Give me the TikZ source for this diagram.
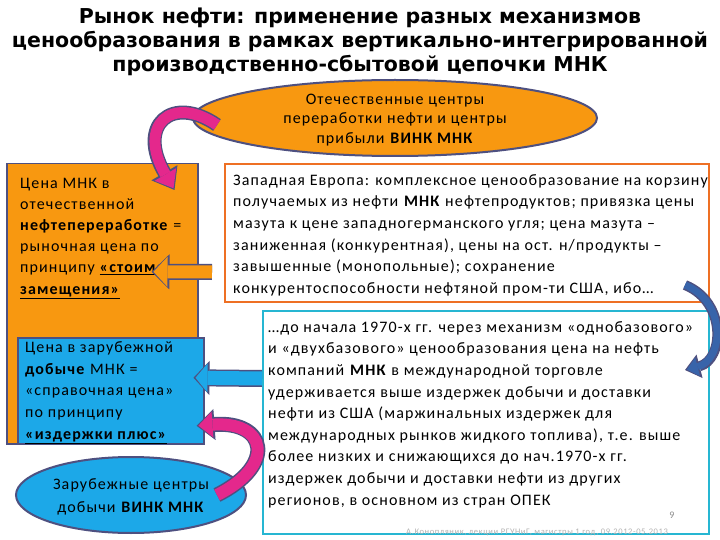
\documentclass[tikz,border=0pt]{standalone}
\usepackage{fontspec}
\setmainfont{Carlito}[LetterSpace=7]
\newfontfamily\titlefont{DejaVu Sans}
\usetikzlibrary{arrows.meta,positioning,shapes.geometric}
\definecolor{oilorange}{RGB}{248,152,16}
\definecolor{framegray}{RGB}{78,80,128}
\definecolor{skyblue}{RGB}{28,168,232}
\definecolor{rimorange}{RGB}{238,112,36}
\definecolor{rimcyan}{RGB}{38,182,210}
\definecolor{pinkarrow}{RGB}{228,40,140}
\definecolor{steelarrow}{RGB}{56,100,170}
\tikzstyle{box}=[rectangle,anchor=north west,inner sep=0pt]
\tikzstyle{txt}=[anchor=base west,inner sep=0pt,align=left]
\tikzset{fat arrow/.style n args={4}{line width=#2,draw=framegray,
  -{Triangle[length=#3,width=#4,line width=1pt]},
  postaction={draw=#1,line width=#2-3pt,shorten >=2pt,
  -{Triangle[length=#3-4pt,width=#4-5pt,line width=0pt]}}}}

\begin{document}
\begin{tikzpicture}[x=1pt,y=-1pt,>=Stealth]
  \useasboundingbox[fill=white] (0,0) rectangle (720,540);
  \tikzstyle{body}=[font=\fontsize{16}{21.6}\selectfont]

  % title
  \node[font=\titlefont\bfseries\fontsize{20.5}{24}\selectfont,align=center] (title) at (360,42)
    {Рынок нефти: применение разных механизмов\\
     ценообразования в рамках вертикально-интегрированной\\
     производственно-сбытовой цепочки МНК};

  % left column (base anchor = last line)
  \node[box,draw=framegray,line width=1.5pt,fill=oilorange,minimum width=191pt,minimum height=280pt] (homebox) at (6,163) {};
  \node[txt,font=\fontsize{16}{21.2}\selectfont] (hometext) at ([xshift=14pt,yshift=-131pt]homebox.north west)
    {Цена МНК в\\ отечественной\\ \textbf{нефтепереработке} =\\ рыночная цена по\\
     принципу \underline{\textbf{«стоимости}}\\ \underline{\textbf{замещения»}}};
  \node[box,draw=framegray,line width=1.5pt,fill=skyblue,minimum width=186pt,minimum height=106pt] (abroadbox) at (17,337) {};
  \node[txt,font=\fontsize{16}{21.8}\selectfont] (abroadtext) at ([xshift=8pt,yshift=5pt]abroadbox.south west)
    {Цена в зарубежной\\ \textbf{добыче} МНК =\\ «справочная цена»\\ по принципу\\
     \underline{\textbf{«издержки плюс»}}};

  % ellipses
  \node[ellipse,draw=framegray,line width=2pt,fill=oilorange,minimum width=404pt,minimum height=76pt] (refine) at (395,118) {};
  \node[align=center,font=\fontsize{16}{19.5}\selectfont] (refinetext) at ([yshift=-2pt]refine)
    {Отечественные центры\\ переработки нефти и центры\\ прибыли \textbf{ВИНК МНК}};
  \node[ellipse,draw=framegray,line width=2pt,fill=skyblue,minimum width=230pt,minimum height=76pt] (upstream) at (131,495) {};
  \node[align=center,font=\fontsize{16}{23}\selectfont] (upstreamtext) at ([yshift=-2pt]upstream)
    {Зарубежные центры\\ добычи \textbf{ВИНК МНК}};

  % right column
  \node[box,draw=rimorange,line width=2pt,fill=white,minimum width=484pt,minimum height=138pt] (westbox) at (224,163) {};
  \node[txt,body,font=\fontsize{16}{21.7}\selectfont] (westtext) at ([xshift=9pt,yshift=9.5pt]westbox.south west)
    {Западная Европа: комплексное ценообразование на корзину\\
     получаемых из нефти \textbf{МНК} нефтепродуктов; привязка цены\\
     мазута к цене западногерманского угля; цена мазута –\\
     заниженная (конкурентная), цены на ост. н/продукты –\\
     завышенные (монопольные); сохранение\\
     конкурентоспособности нефтяной пром-ти США, ибо…};
  \node[box,draw=rimcyan,line width=2pt,fill=white,minimum width=446pt,minimum height=223pt] (cartelbox) at (262,310) {};
  \node[txt,body] (carteltext) at ([xshift=6pt,yshift=30pt]cartelbox.south west)
    {…до начала 1970-х гг. через механизм «однобазового»\\
     и «двухбазового» ценообразования цена на нефть\\
     компаний \textbf{МНК} в международной торговле\\
     удерживается выше издержек добычи и доставки\\
     нефти из США (маржинальных издержек для\\
     международных рынков жидкого топлива), т.е. выше\\
     более низких и снижающихся до нач.1970-х гг.\\
     издержек добычи и доставки нефти из других\\
     регионов, в основном из стран ОПЕК};
  \node[font=\fontsize{10}{12}\selectfont,text=black!45] (pageno) at (672,515) {9};
  \node[font=\fontsize{8.5}{10}\selectfont,text=black!30] (footer) at (537,532)
    {А.Конопляник, лекции РГУНиГ, магистры 1 год, 09.2012-05.2013};

  % arrows
  \draw[fat arrow={pinkarrow}{14pt}{20pt}{30pt}] ([xshift=25pt,yshift=-7pt]refine.west)
    .. controls +(-45,-31) and +(-38,-65) .. ([xshift=-24pt,yshift=-27pt]homebox.north east);
  \draw[fat arrow={oilorange}{16pt}{18pt}{35pt}] ([xshift=-12pt,yshift=-39pt]westbox.west)
    -- ([xshift=-47pt,yshift=32pt]homebox.east);
  \draw[fat arrow={skyblue}{17pt}{16pt}{34pt}] ([yshift=44pt]cartelbox.west)
    -- ([xshift=-11pt,yshift=13pt]abroadbox.east);
  \draw[fat arrow={pinkarrow}{15pt}{18pt}{31pt}] ([xshift=-30pt]upstream.east)
    .. controls +(60,-30) and +(70,-5) .. ([xshift=-8pt,yshift=-35pt]abroadbox.east);
  \draw[fat arrow={steelarrow}{10pt}{15pt}{24pt}] ([xshift=-25pt,yshift=18pt]westbox.south east)
    .. controls +(42,17) and +(39,-10) .. ([xshift=-25pt,yshift=-60pt]cartelbox.north east);
\end{tikzpicture}
\end{document}
